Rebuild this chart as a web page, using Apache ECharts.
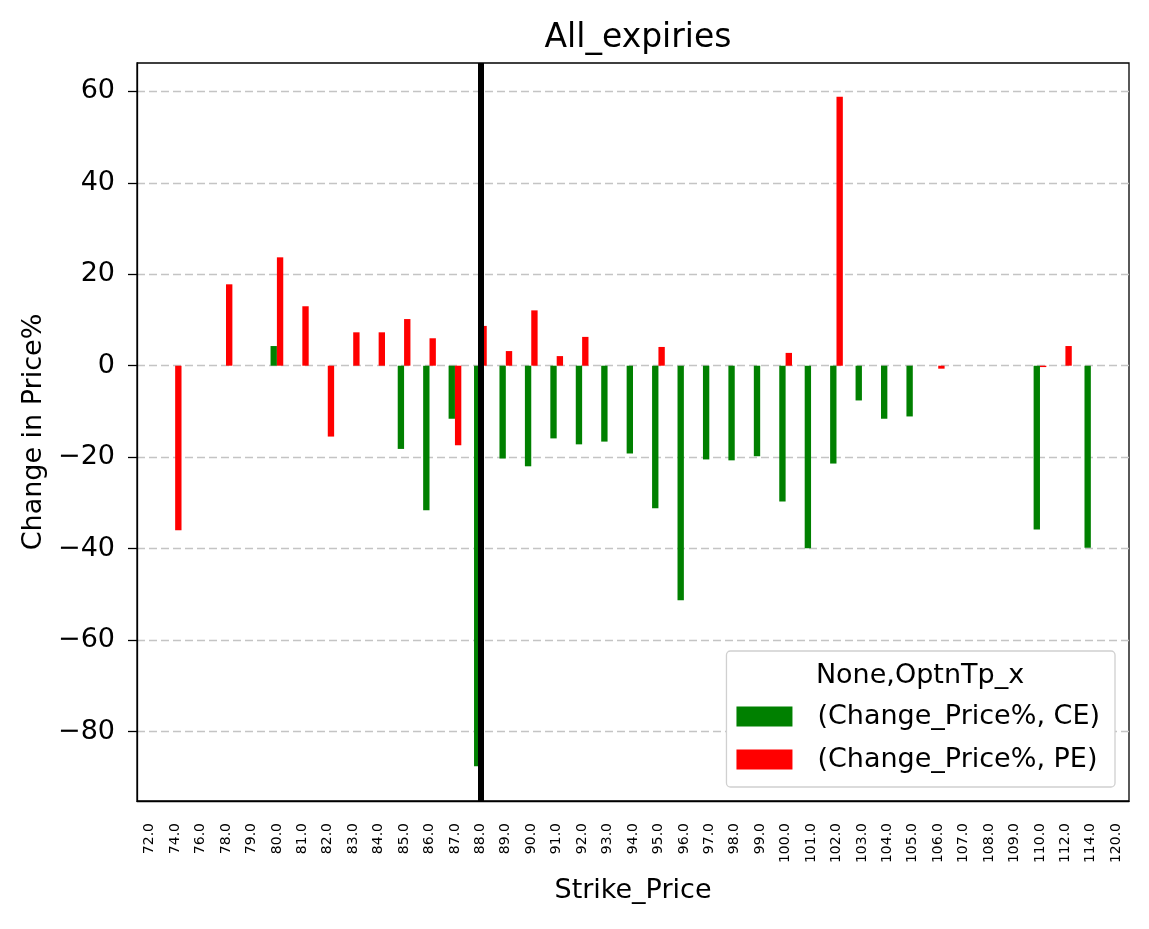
<!DOCTYPE html>
<html>
<head>
<meta charset="utf-8">
<script src="https://cdn.jsdelivr.net/npm/echarts@6/dist/echarts.min.js"></script>
<style>
  html, body { margin: 0; padding: 0; background: #fff; }
  #chart { width: 1149px; height: 929px; }
</style>
</head>
<body>
<div id="chart"></div>
<script>
// strike prices on the x axis
const strikes = ['72.0', '74.0', '76.0', '78.0', '79.0', '80.0', '81.0', '82.0', '83.0', '84.0',
  '85.0', '86.0', '87.0', '88.0', '89.0', '90.0', '91.0', '92.0', '93.0', '94.0',
  '95.0', '96.0', '97.0', '98.0', '99.0', '100.0', '101.0', '102.0', '103.0', '104.0',
  '105.0', '106.0', '107.0', '108.0', '109.0', '110.0', '112.0', '114.0', '120.0']

// Change_Price% for calls
const ceChange = [null, null, null, null, null, 4.3, null, null, null, null,
  -18.2, -31.6, -11.6, -87.6, -20.3, -22.0, -15.9, -17.2, -16.6, -19.2,
  -31.2, -51.3, -20.5, -20.7, -19.8, -29.7, -39.9, -21.4, -7.6, -11.6,
  -11.1, null, null, null, null, -35.8, null, -39.8, null]

// Change_Price% for puts
const peChange = [null, -36.0, null, 17.8, null, 23.7, 13.0, -15.5, 7.3, 7.3,
  10.2, 6.0, -17.4, 8.7, 3.2, 12.1, 2.1, 6.3, null, null,
  4.1, null, null, null, null, 2.8, null, 58.8, null, null,
  null, -0.65, null, null, null, -0.3, 4.3, null, null]

const spotStrike = '88.0'
const seriesNames = ['(Change_Price%, CE)', '(Change_Price%, PE)']

const font = 'DejaVu Sans'
const chart = echarts.init(document.getElementById('chart'))

const option = {
  animation: false,
  textStyle: { fontFamily: font, color: '#000' },
  title: {
    text: 'All_expiries',
    left: 633,
    textAlign: 'center',
    top: 17,
    textStyle: { fontFamily: font, fontSize: 33, fontWeight: 'normal', color: '#000' }
  },
  grid: {
    left: 137,
    right: 20,
    top: 63,
    bottom: 128,
    show: true,
    borderColor: '#000',
    borderWidth: 1.3,
    backgroundColor: '#fff'
  },
  legend: {
    orient: 'vertical',
    right: 34,
    top: 651,
    data: seriesNames,
    itemWidth: 56,
    itemHeight: 20,
    itemGap: 16,
    icon: 'rect',
    padding: [52, 15, 14, 10],
    backgroundColor: '#fff',
    borderColor: '#d0d0d0',
    borderWidth: 1.3,
    borderRadius: 4,
    textStyle: { fontFamily: font, fontSize: 27, lineHeight: 27, color: '#000', padding: [0, 0, 0, 20] }
  },
  graphic: [{
    type: 'text',
    x: 920,
    y: 676,
    z: 100,
    style: {
      text: 'None,OptnTp_x',
      font: '27px "DejaVu Sans"',
      fill: '#000',
      textAlign: 'center',
      textVerticalAlign: 'middle'
    }
  }],
  xAxis: {
    type: 'category',
    data: strikes,
    name: 'Strike_Price',
    nameLocation: 'middle',
    nameGap: 76,
    nameTextStyle: { fontFamily: font, fontSize: 27, color: '#000' },
    axisLine: { onZero: false, lineStyle: { color: '#000', width: 1.3 } },
    axisTick: { alignWithLabel: true, length: 9, lineStyle: { color: '#000', width: 1.3 } },
    axisLabel: { interval: 0, rotate: 90, fontSize: 14, color: '#000', fontFamily: font, margin: 22 },
    splitLine: { show: false }
  },
  yAxis: {
    type: 'value',
    min: -95.2,
    max: 66.2,
    splitNumber: 8,
    name: 'Change in Price%',
    nameLocation: 'middle',
    nameGap: 90,
    nameTextStyle: { fontFamily: font, fontSize: 27, color: '#000' },
    axisLine: { show: true, lineStyle: { color: '#000', width: 1.3 } },
    axisTick: { show: true, length: 9, lineStyle: { color: '#000', width: 1.3 } },
    axisLabel: {
      showMinLabel: false,
      showMaxLabel: false,
      fontSize: 27,
      color: '#000',
      fontFamily: font,
      margin: 22,
      formatter: v => String(v).replace('-', '\u2212')
    },
    splitLine: {
      show: true,
      showMinLine: false,
      showMaxLine: false,
      lineStyle: { color: '#c4c4c4', width: 1.3, type: [8, 4] }
    }
  },
  series: [
    {
      name: seriesNames[0],
      type: 'bar',
      data: ceChange,
      barWidth: '25%',
      barGap: '0%',
      itemStyle: { color: '#008000' }
    },
    {
      name: seriesNames[1],
      type: 'bar',
      data: peChange,
      barWidth: '25%',
      barGap: '0%',
      itemStyle: { color: '#ff0000' }
    },
    {
      // vertical marker at the spot strike
      name: 'spot',
      type: 'line',
      data: [],
      markLine: {
        silent: true,
        symbol: 'none',
        label: { show: false },
        lineStyle: { color: '#000', width: 6, type: 'solid' },
        data: [{ xAxis: spotStrike }]
      }
    }
  ]
}

chart.setOption(option)
</script>
</body>
</html>
